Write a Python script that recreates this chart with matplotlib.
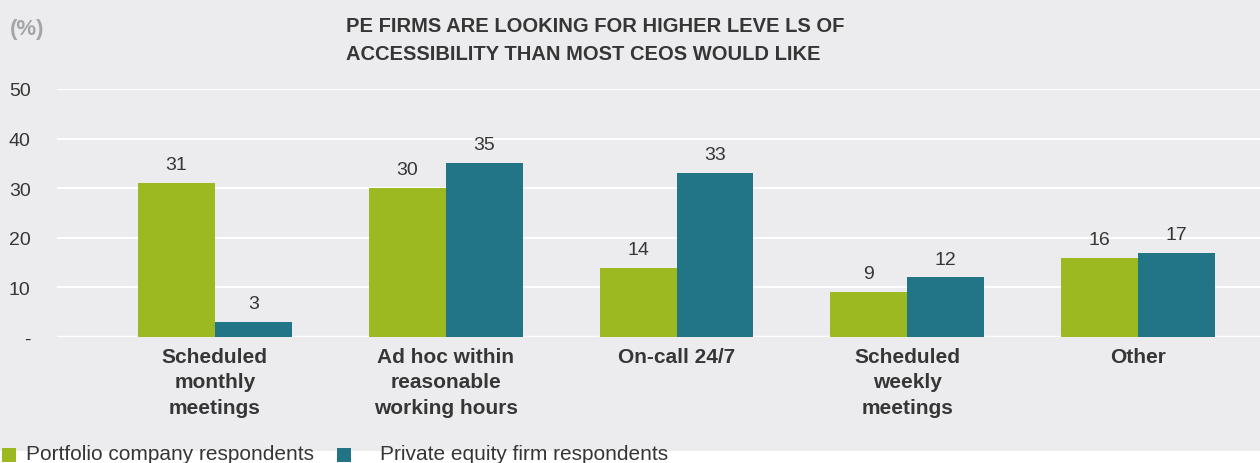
import matplotlib
matplotlib.use("Agg")
import matplotlib.pyplot as plt
import numpy as np
from matplotlib.patches import Rectangle

categories = ["Scheduled\nmonthly\nmeetings", "Ad hoc within\nreasonable\nworking hours",
              "On-call 24/7", "Scheduled\nweekly\nmeetings", "Other"]
portfolio = [31, 30, 14, 9, 16]
pe_firm = [3, 35, 33, 12, 17]
series_names = ["Portfolio company respondents", "Private equity firm respondents"]
yticks = [0, 10, 20, 30, 40, 50]
ytick_labels = ["-", "10", "20", "30", "40", "50"]

GREEN = "#9DB922"
TEAL = "#217587"
BG = "#ECECEE"
DARK = "#363636"

plt.rcParams['font.family'] = ['Liberation Sans', 'DejaVu Sans']

W, H = 1260, 464
fig = plt.figure(figsize=(W/100, H/100), dpi=100)
fig.patch.set_facecolor("white")

bgax = fig.add_axes([0, 1 - 452/H, 1, 452/H], zorder=-5)
bgax.set_facecolor(BG)
bgax.set_xticks([]); bgax.set_yticks([])
for s in bgax.spines.values():
    s.set_visible(False)

ax = fig.add_axes([57/W, 1 - 338/H, (W-57)/W, (338-90)/H], zorder=1)
ax.set_facecolor("none")
x = np.arange(len(categories))
bw = 0.333
b1 = ax.bar(x - bw/2, portfolio, bw, color=GREEN, zorder=3)
b2 = ax.bar(x + bw/2, pe_firm, bw, color=TEAL, zorder=3)
for bars, vals in ((b1, portfolio), (b2, pe_firm)):
    for r, v in zip(bars, vals):
        ax.text(r.get_x() + r.get_width()/2, v + 2.0, str(v), ha="center", va="bottom",
                fontsize=14, color=DARK, zorder=4)

ax.set_xlim(-0.684, 4.528)
ax.set_ylim(0, 50)
ax.set_yticks(yticks)
ax.set_yticklabels(ytick_labels, fontsize=14, color=DARK)
ax.set_xticks(x)
ax.set_xticklabels(categories, fontsize=15, fontweight="bold", color=DARK, linespacing=1.45)
ax.tick_params(axis="both", length=0)
ax.tick_params(axis="y", pad=19)
ax.tick_params(axis="x", pad=7)
ax.grid(axis="y", color="white", linewidth=1.5, zorder=1)
ax.axhline(0, color="white", linewidth=2.5, zorder=2)
for s in ax.spines.values():
    s.set_visible(False)

fig.text(10/W, 1 - 30/H, "(%)", fontsize=16, fontweight="bold", color="#A3A6A8",
         ha="left", va="center")
fig.text(346/W, 1 - 40/H, "PE FIRMS ARE LOOKING FOR HIGHER LEVE LS OF\nACCESSIBILITY THAN MOST CEOS WOULD LIKE",
         fontsize=14.5, fontweight="bold", color=DARK, ha="left", va="center", linespacing=1.6)

# legend
fig.patches.append(Rectangle((2/W, 1 - 463/H), 14/W, 14/H, transform=fig.transFigure,
                             facecolor=GREEN, edgecolor="none"))
fig.text(26/W, 1 - 455/H, series_names[0], fontsize=15, color=DARK, ha="left", va="center")
fig.patches.append(Rectangle((337/W, 1 - 463/H), 14/W, 14/H, transform=fig.transFigure,
                             facecolor=TEAL, edgecolor="none"))
fig.text(380/W, 1 - 455/H, series_names[1], fontsize=15, color=DARK, ha="left", va="center")

fig.savefig("out.png", dpi=100, facecolor=fig.get_facecolor())
